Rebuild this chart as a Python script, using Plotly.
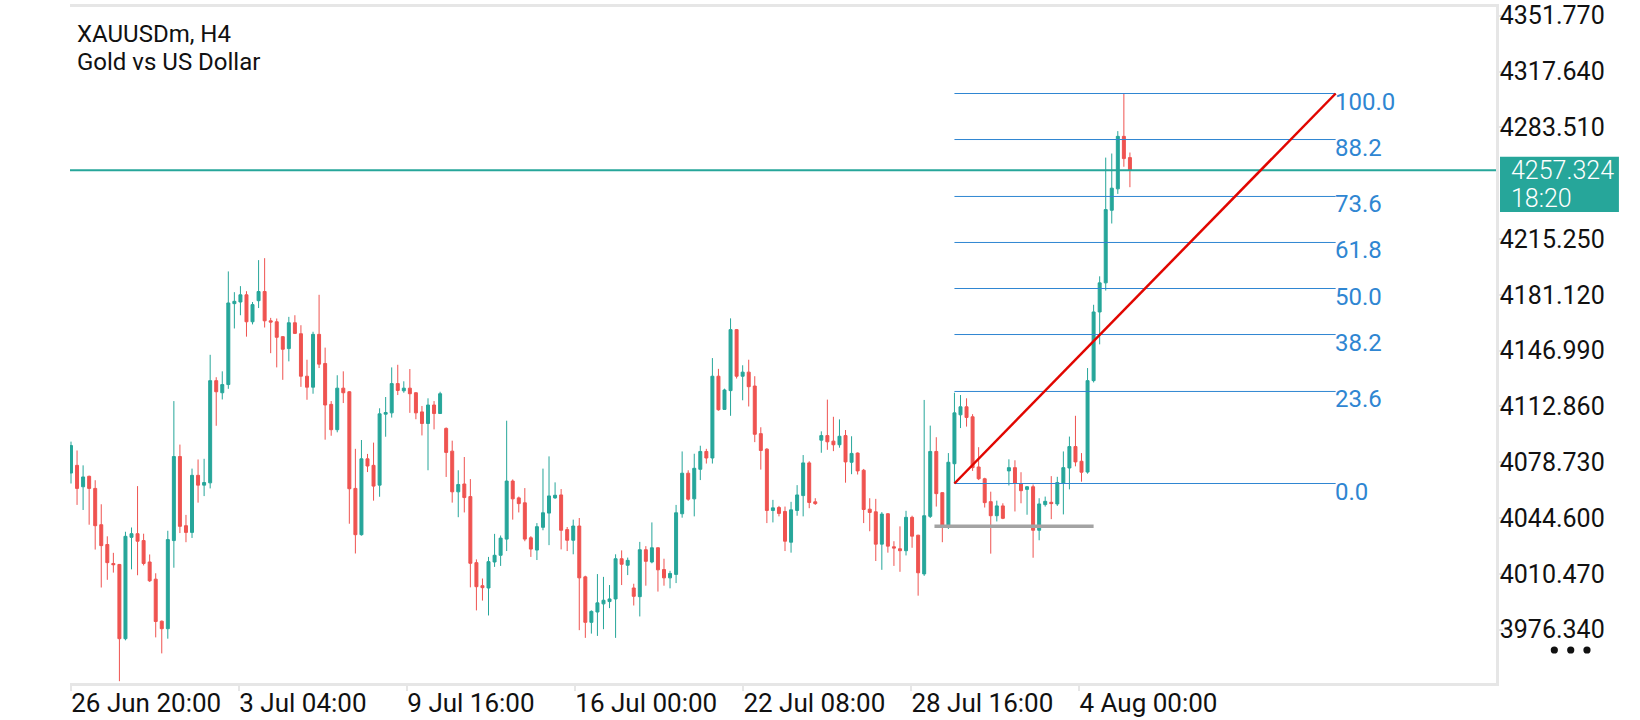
import plotly.graph_objects as go

# ---------------- data ----------------
opens = [4072.1, 4076.8, 4063.7, 4070.1, 4062.7, 4040.5, 4028.4, 4016.8, 4016.2, 3970.8,
         4032.8, 4035.0, 4030.8, 4017.7, 4007.2, 3981.5, 3976.9, 4030.8, 4082.2, 4039.9,
         4035.8, 4070.7, 4064.7, 4066.1, 4128.6, 4121.2, 4126.2, 4175.7, 4176.7, 4181.1,
         4164.6, 4177.5, 4183.1, 4165.2, 4164.6, 4155.5, 4148.2, 4164.0, 4157.3, 4131.3,
         4124.6, 4156.9, 4139.1, 4114.1, 4098.6, 4124.0, 4121.8, 4062.7, 4034.4, 4080.8,
         4076.8, 4064.7, 4108.1, 4108.9, 4126.8, 4122.4, 4124.0, 4121.2, 4109.5, 4102.4,
         4113.7, 4108.5, 4099.4, 4085.5, 4060.6, 4065.4, 4057.7, 4017.3, 4003.2, 4001.8,
         4017.7, 4021.8, 4031.7, 4067.2, 4056.9, 4053.9, 4032.5, 4025.0, 4038.9, 4047.6,
         4056.9, 4058.7, 4037.5, 4031.0, 4039.7, 4008.6, 3980.8, 3987.1, 3992.1, 3993.5,
         3995.1, 4019.7, 4015.7, 4001.8, 3996.5, 4025.2, 4017.7, 4026.4, 4013.1, 4008.0,
         4010.1, 4047.2, 4072.0, 4056.3, 4074.4, 4085.3, 4081.3, 4131.3, 4111.0, 4122.5,
         4159.8, 4131.3, 4133.8, 4125.3, 4096.2, 4086.7, 4049.2, 4051.0, 4048.6, 4029.8,
         4049.2, 4058.3, 4078.3, 4054.5, 4092.2, 4095.0, 4091.6, 4089.4, 4095.0, 4078.7,
         4084.3, 4073.8, 4050.0, 4048.4, 4028.6, 4047.2, 4027.0, 4025.8, 4024.6, 4045.0,
         4034.1, 4010.4, 4045.6, 4085.3, 4060.1, 4039.9, 4077.8, 4107.7, 4112.6, 4106.5,
         4075.8, 4068.6, 4054.6, 4046.0, 4052.0, 4073.4, 4075.4, 4065.7, 4062.1, 4063.7,
         4037.1, 4052.8, 4054.2, 4053.2, 4065.7, 4075.2, 4088.3, 4079.3, 4072.7, 4128.6,
         4170.6, 4188.4, 4232.8, 4245.9, 4278.0, 4265.0]
highs = [4091.3, 4085.9, 4076.8, 4070.5, 4067.7, 4053.0, 4033.4, 4023.3, 4016.5, 4036.2,
         4038.8, 4064.1, 4035.0, 4022.3, 4010.8, 3981.9, 4036.8, 4116.1, 4089.5, 4046.5,
         4074.8, 4080.4, 4080.8, 4144.4, 4130.7, 4134.3, 4195.4, 4182.7, 4186.4, 4183.3,
         4176.7, 4202.3, 4203.5, 4167.0, 4166.6, 4155.9, 4167.6, 4168.6, 4162.5, 4141.4,
         4158.5, 4181.1, 4148.8, 4116.1, 4131.9, 4134.3, 4122.2, 4086.9, 4092.3, 4083.8,
         4090.7, 4111.7, 4118.6, 4136.7, 4138.3, 4128.2, 4135.7, 4121.6, 4113.1, 4117.8,
         4116.1, 4121.8, 4100.0, 4091.9, 4073.8, 4081.9, 4068.4, 4019.3, 4007.6, 4020.8,
         4034.9, 4033.9, 4104.1, 4068.2, 4057.7, 4062.9, 4033.5, 4041.5, 4074.8, 4082.3,
         4066.4, 4062.3, 4039.1, 4043.6, 4044.6, 4009.3, 3988.1, 4010.3, 4008.6, 4003.6,
         4022.4, 4024.8, 4020.4, 4004.4, 4030.0, 4027.4, 4041.9, 4026.6, 4019.7, 4012.3,
         4052.6, 4085.3, 4073.8, 4083.9, 4088.8, 4086.9, 4142.4, 4135.8, 4123.7, 4166.7,
         4160.2, 4138.0, 4141.4, 4131.3, 4100.1, 4087.3, 4055.7, 4052.0, 4051.6, 4054.5,
         4064.7, 4083.1, 4079.3, 4056.7, 4097.6, 4117.0, 4106.5, 4104.9, 4098.4, 4094.6,
         4084.7, 4074.6, 4056.7, 4056.3, 4048.2, 4047.6, 4030.4, 4039.5, 4049.0, 4046.0,
         4034.3, 4116.8, 4101.1, 4094.0, 4060.3, 4084.3, 4121.2, 4119.8, 4117.8, 4108.1,
         4087.9, 4069.2, 4060.7, 4055.2, 4053.6, 4080.5, 4079.9, 4072.6, 4064.1, 4065.1,
         4056.7, 4057.7, 4070.2, 4069.8, 4085.3, 4094.4, 4107.1, 4084.3, 4136.3, 4175.0,
         4192.4, 4265.0, 4267.5, 4281.2, 4304.2, 4268.1]
lows = [4065.7, 4052.6, 4049.5, 4040.5, 4025.3, 4002.1, 4006.8, 4011.2, 3944.8, 3969.8,
        4013.2, 4009.6, 4015.6, 4005.5, 3971.6, 3961.8, 3970.8, 4014.2, 4035.4, 4029.8,
        4032.4, 4054.0, 4058.0, 4062.7, 4101.0, 4117.1, 4123.6, 4160.5, 4168.6, 4155.5,
        4163.0, 4173.0, 4161.1, 4145.4, 4136.7, 4129.1, 4140.4, 4157.1, 4124.8, 4116.9,
        4120.6, 4136.3, 4092.5, 4094.9, 4097.0, 4114.9, 4041.1, 4022.9, 4033.8, 4072.7,
        4055.2, 4057.6, 4094.3, 4106.0, 4119.8, 4121.2, 4108.9, 4105.0, 4095.1, 4073.8,
        4098.8, 4108.3, 4069.7, 4054.0, 4045.1, 4048.0, 4002.2, 3988.1, 3994.1, 3985.0,
        4014.7, 4015.3, 4024.4, 4043.6, 4048.0, 4030.4, 4020.8, 4018.9, 4037.1, 4028.0,
        4056.3, 4025.4, 4024.4, 4022.4, 3976.0, 3971.3, 3973.9, 3972.5, 3976.6, 3989.5,
        3971.3, 4003.6, 4009.7, 3991.1, 3984.4, 4003.2, 4016.9, 3999.6, 4003.2, 4001.6,
        4004.8, 4044.8, 4055.1, 4045.6, 4067.8, 4077.9, 4077.9, 4110.2, 4111.0, 4107.1,
        4129.9, 4116.6, 4112.8, 4091.0, 4074.2, 4041.5, 4041.9, 4045.6, 4024.4, 4023.4,
        4046.0, 4045.6, 4050.6, 4052.6, 4084.5, 4086.3, 4085.5, 4087.6, 4066.2, 4071.4,
        4071.2, 4041.5, 4036.5, 4018.3, 4012.9, 4023.4, 4015.3, 4011.7, 4021.7, 4026.4,
        3997.1, 4009.2, 4044.6, 4051.6, 4029.8, 4037.9, 4065.7, 4099.6, 4100.5, 4073.4,
        4067.8, 4051.0, 4022.8, 4042.5, 4043.9, 4064.5, 4048.6, 4053.6, 4046.6, 4020.3,
        4031.0, 4051.6, 4043.9, 4052.0, 4046.8, 4062.1, 4076.2, 4066.8, 4071.7, 4127.5,
        4150.8, 4183.7, 4224.7, 4242.8, 4259.4, 4246.9]
closes = [4088.9, 4062.7, 4069.7, 4062.7, 4039.9, 4027.7, 4017.3, 4016.0, 3970.8, 4033.4,
          4035.0, 4030.4, 4016.8, 4006.2, 3981.3, 3976.9, 4031.4, 4082.2, 4039.5, 4035.8,
          4070.7, 4064.7, 4066.3, 4128.6, 4121.8, 4126.2, 4176.1, 4177.1, 4181.1, 4164.6,
          4175.1, 4183.1, 4165.2, 4164.4, 4155.1, 4147.8, 4164.0, 4157.5, 4131.3, 4124.6,
          4156.9, 4138.7, 4113.7, 4098.6, 4124.0, 4121.2, 4062.5, 4034.4, 4080.8, 4076.4,
          4064.1, 4108.3, 4109.1, 4126.8, 4122.6, 4124.0, 4120.6, 4108.9, 4102.4, 4113.7,
          4108.5, 4120.6, 4084.7, 4060.6, 4065.1, 4057.1, 4016.9, 4002.6, 4002.0, 4017.9,
          4021.8, 4032.3, 4067.2, 4056.3, 4053.4, 4031.7, 4025.6, 4039.3, 4047.8, 4058.1,
          4058.5, 4037.1, 4031.0, 4039.7, 4008.0, 3980.8, 3987.5, 3992.7, 3994.3, 3995.1,
          4019.7, 4016.3, 4018.7, 3996.7, 4025.2, 4018.1, 4026.4, 4012.9, 4008.0, 4010.7,
          4047.8, 4072.0, 4056.1, 4075.0, 4085.3, 4081.3, 4131.3, 4110.8, 4122.9, 4159.8,
          4131.3, 4133.8, 4124.9, 4095.8, 4085.9, 4049.2, 4050.8, 4047.4, 4030.4, 4049.6,
          4058.7, 4078.3, 4054.1, 4053.4, 4095.0, 4091.2, 4089.4, 4094.6, 4078.9, 4084.1,
          4073.4, 4049.8, 4048.0, 4028.6, 4047.0, 4027.4, 4026.2, 4024.6, 4045.0, 4033.5,
          4011.1, 4046.0, 4085.3, 4059.5, 4040.3, 4078.7, 4108.9, 4112.6, 4106.1, 4075.4,
          4068.6, 4054.0, 4046.0, 4052.0, 4044.4, 4075.4, 4065.7, 4061.3, 4063.7, 4037.1,
          4053.2, 4054.8, 4053.4, 4066.3, 4075.4, 4088.3, 4078.9, 4072.6, 4128.6, 4170.6,
          4188.4, 4233.2, 4246.3, 4278.0, 4264.4, 4257.3]
bars = list(range(1, len(opens) + 1))

x_tick_bars = [1, 28.77, 56.54, 84.31, 112.08, 139.85, 167.62]
x_tick_labels = ["26 Jun 20:00", "3 Jul 04:00", "9 Jul 16:00", "16 Jul 00:00",
                 "22 Jul 08:00", "28 Jul 16:00", "4 Aug 00:00"]
y_tick_values = [4351.770, 4317.640, 4283.510, 4249.380, 4215.250, 4181.120, 4146.990,
                 4112.860, 4078.730, 4044.600, 4010.470, 3976.340]
y_tick_hidden = [4249.380]

current_price = 4257.324
current_time = "18:20"

# Fibonacci retracement drawing
fib_start_bar = 147
fib_end_bar = 210
fib_low = 4065.7
fib_high = 4304.2
fib_ratios = [1.0, 0.882, 0.736, 0.618, 0.5, 0.382, 0.236, 0.0]
fib_labels = ["100.0", "88.2", "73.6", "61.8", "50.0", "38.2", "23.6", "0.0"]

# horizontal gray trend line
gray_line_bars = [143.7, 170.0]
gray_line_price = 4039.5

title_lines = ["XAUUSDm, H4", "Gold vs US Dollar"]

# ---------------- styling ----------------
GREEN = "#26a69a"
RED = "#ef5350"
FIB = "#2f86d2"
FRAME = "#e6e6e6"
FONT = "Roboto"

fig = go.Figure()
fig.add_trace(go.Candlestick(
    x=bars, open=opens, high=highs, low=lows, close=closes,
    increasing=dict(line=dict(color=GREEN, width=1), fillcolor=GREEN),
    decreasing=dict(line=dict(color=RED, width=1), fillcolor=RED),
    whiskerwidth=0, showlegend=False, hoverinfo="skip",
))

shapes = []
annotations = []

# current price line
shapes.append(dict(type="line", xref="paper", x0=0, x1=1, yref="y",
                   y0=current_price, y1=current_price,
                   line=dict(color=GREEN, width=2), layer="above"))

# fib levels
for r, lab in zip(fib_ratios, fib_labels):
    lvl = fib_low + r * (fib_high - fib_low)
    shapes.append(dict(type="line", xref="x", yref="y", x0=fib_start_bar, x1=fib_end_bar,
                       y0=lvl, y1=lvl, line=dict(color=FIB, width=1), layer="above"))
    annotations.append(dict(x=fib_end_bar, y=lvl, xref="x", yref="y", text=lab,
                            showarrow=False, xanchor="left", yanchor="middle",
                            xshift=-3, yshift=-8,
                            font=dict(family=FONT, size=24, color=FIB)))

# fib diagonal (red)
shapes.append(dict(type="line", xref="x", yref="y", x0=fib_start_bar, y0=fib_low,
                   x1=fib_end_bar, y1=fib_high,
                   line=dict(color="#e10600", width=2.5), layer="above"))

# gray horizontal line
shapes.append(dict(type="line", xref="x", yref="y", x0=gray_line_bars[0], x1=gray_line_bars[1],
                   y0=gray_line_price, y1=gray_line_price,
                   line=dict(color="#a3a3a3", width=3.5), layer="above"))

# current price box
shapes.append(dict(type="rect", xref="paper", x0=1.0028, x1=1.0862,
                   yref="y", ysizemode="pixel", yanchor=current_price, y0=-41.9, y1=13.5,
                   fillcolor=GREEN, line=dict(width=0), layer="above"))
annotations.append(dict(xref="paper", x=1.0089, yref="y", y=current_price, text="4257.324",
                        showarrow=False, xanchor="left", yanchor="middle", yshift=0,
                        font=dict(family=FONT, size=25, color="white", weight=300)))
annotations.append(dict(xref="paper", x=1.0089, yref="y", y=current_price, text=current_time,
                        showarrow=False, xanchor="left", yanchor="middle", yshift=-28,
                        font=dict(family=FONT, size=25, color="white", weight=300)))

# title
annotations.append(dict(xref="paper", yref="paper", x=0.0035, y=0.9594, text=title_lines[0],
                        showarrow=False, xanchor="left", yanchor="middle",
                        font=dict(family=FONT, size=24, color="#111111")))
annotations.append(dict(xref="paper", yref="paper", x=0.0035, y=0.9184, text=title_lines[1],
                        showarrow=False, xanchor="left", yanchor="middle",
                        font=dict(family=FONT, size=24, color="#111111")))

# "..." menu dots
for xp in [1.0409, 1.0524, 1.0638]:
    shapes.append(dict(type="circle", xref="paper", yref="paper",
                       xsizemode="pixel", ysizemode="pixel", xanchor=xp, yanchor=0.0488,
                       x0=-3.6, x1=3.6, y0=-3.6, y1=3.6,
                       fillcolor="#111111", line=dict(width=0)))

fig.update_layout(
    width=1640, height=720, autosize=False,
    margin=dict(l=70, r=144, t=2, b=35, pad=0),
    paper_bgcolor="white", plot_bgcolor="white",
    shapes=shapes, annotations=annotations,
    boxgap=0.3, boxgroupgap=0.3,
    xaxis=dict(range=[0.835, 236.5], rangeslider=dict(visible=False),
               showgrid=False, zeroline=False,
               showline=True, linecolor=FRAME, linewidth=2.5, mirror=True,
               tickmode="array", tickvals=x_tick_bars, ticktext=x_tick_labels,
               ticks="outside", ticklen=5, tickcolor=FRAME, tickwidth=2,
               ticklabelposition="outside right", ticklabelshift=-2,
               ticklabelstandoff=-5, ticklabeloverflow="allow",
               tickfont=dict(family=FONT, size=26, color="#111111")),
    yaxis=dict(range=[3943.7, 4357.1], side="right",
               showgrid=False, zeroline=False,
               showline=True, linecolor=FRAME, linewidth=2.5,
               tickmode="array",
               tickvals=[v for v in y_tick_values if v not in y_tick_hidden],
               ticktext=[f"{v:.3f}" for v in y_tick_values if v not in y_tick_hidden],
               ticks="outside", ticklen=4, tickcolor=FRAME, tickwidth=1.5,
               ticklabelstandoff=-8, ticklabeloverflow="allow",
               tickfont=dict(family=FONT, size=25, color="#111111")),
    showlegend=False,
)

fig.write_html("out.html", config={"displayModeBar": False},
               post_script="document.body.style.margin='0px';")
